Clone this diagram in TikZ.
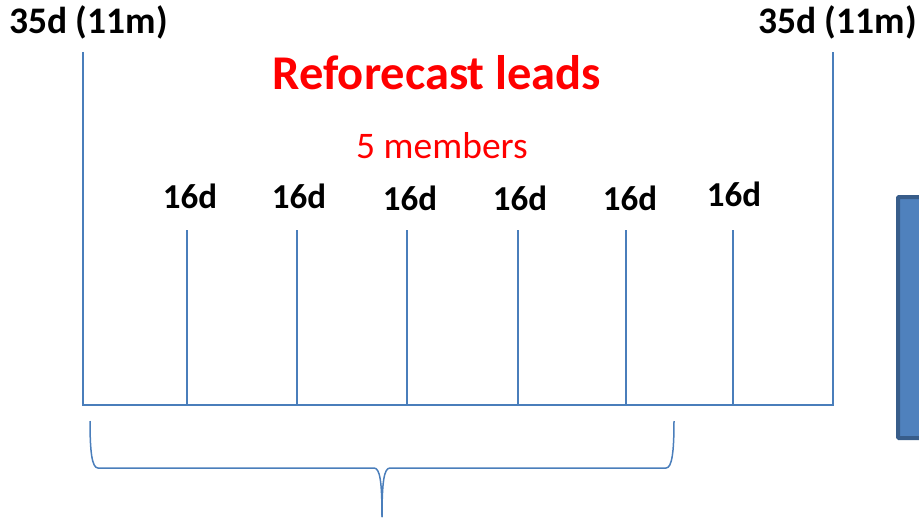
\documentclass[tikz,border=0pt]{standalone}
\usepackage{fontspec}
\setmainfont{Carlito}
\definecolor{linecol}{HTML}{4A7EBB}
\definecolor{boxfill}{HTML}{4F81BD}
\definecolor{boxedge}{HTML}{385D8A}
\begin{document}
\begin{tikzpicture}[x=1pt,y=-1pt,
  axis/.style={draw=linecol,line width=1.6pt},
  bigtag/.style={font=\bfseries\fontsize{37.5}{42}\selectfont,anchor=base,inner sep=0pt},
  leadtag/.style={font=\bfseries\fontsize{35}{40}\selectfont,anchor=base,inner sep=0pt},
  title/.style={font=\bfseries\fontsize{48.5}{54}\selectfont,text=red,anchor=base,inner sep=0pt},
  subtitle/.style={font=\fontsize{37.5}{42}\selectfont,text=red,anchor=base,inner sep=0pt}]
\useasboundingbox (0,0) rectangle (919,519);

% end labels and titles
\node[bigtag] (ls) at (88.5,34) {35d (11m)};
\node[bigtag] (rs) at (837.5,34) {35d (11m)};
\node[title] (ttl) at (437,90) {Reforecast leads};
\node[subtitle] (sub) at (442,158) {5 members};

% axis frame
\coordinate (lt) at (83,52);
\coordinate (lb) at (83,405);
\coordinate (rt) at (833,52);
\coordinate (rb) at (833,405);
\draw[axis] (lt) -- (lb) -- (rb) -- (rt);

% 16-day lead ticks
\foreach \i/\x/\lx/\ly in {1/187/190/208,2/297/299/208,3/407/410/210,4/518/520/210,5/626/630/210,6/733/734/206}{
  \node[leadtag] (l\i) at (\lx,\ly) {16d};
  \coordinate (tt\i) at (\x,230);
  \coordinate (tb\i) at (\x,405);
  \draw[axis] (tt\i) -- (tb\i);
}

% brace under the first five ticks
\coordinate (bl) at (90,421);
\coordinate (br) at (674,421);
\coordinate (bt) at (382,517);
\draw[axis,line width=1.5pt] (bl) .. controls (90,452) and (92,468) .. (98,468) -- (374,468)
  .. controls (380,468) and (382,482) .. (bt);
\draw[axis,line width=1.5pt] (br) .. controls (674,452) and (672,468) .. (666,468) -- (390,468)
  .. controls (384,468) and (382,482) .. (bt);

% blue box at the right edge
\draw[fill=boxfill,draw=boxedge,line width=4pt,rounded corners=1pt] (898,197) rectangle (940,438);
\end{tikzpicture}
\end{document}
